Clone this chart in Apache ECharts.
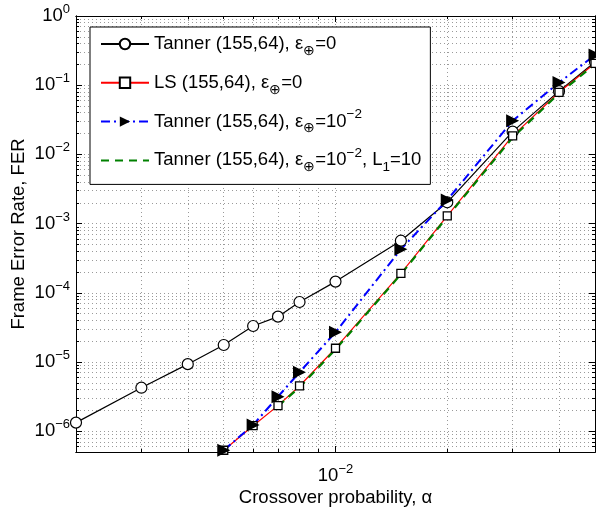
<!DOCTYPE html>
<html><head><meta charset="utf-8">
<script src="https://cdn.jsdelivr.net/npm/echarts@6/dist/echarts.min.js"></script>
<style>html,body{margin:0;padding:0;background:#fff}#c{width:596px;height:508px}</style>
</head><body><div id="c"></div><script>
// ---- data ----
const alphaTanner0 = [0.002,0.003,0.004,0.005,0.006,0.007,0.008,0.01,0.015,0.02,0.03,0.04,0.05];
const ferTanner0   = [1.33e-6,4.25e-6,9.3e-6,1.76e-5,3.31e-5,4.52e-5,7.36e-5,1.45e-4,5.66e-4,2.03e-3,2.13e-2,8.2e-2,0.216];
const alphaLS0     = [0.005,0.006,0.007,0.008,0.01,0.015,0.02,0.03,0.04,0.05];
const ferLS0       = [5.3e-7,1.2e-6,2.34e-6,4.5e-6,1.58e-5,1.91e-4,1.29e-3,1.85e-2,7.9e-2,0.207];
const alphaTannerE = [0.005,0.006,0.007,0.008,0.01,0.015,0.02,0.03,0.04,0.05];
const ferTannerE   = [5.3e-7,1.23e-6,3.15e-6,7.1e-6,2.69e-5,4.25e-4,2.19e-3,3.07e-2,0.109,0.273];
const alphaTannerL = [0.007,0.008,0.01,0.015,0.02,0.03,0.04,0.05];
const ferTannerL   = [2.3e-6,4.3e-6,1.52e-5,1.85e-4,1.25e-3,1.75e-2,7.6e-2,0.2];

const xMin = 0.002, xMax = 0.05, yMin = 5e-7, yMax = 1;
const xGridValues = [0.002,0.003,0.004,0.005,0.006,0.007,0.008,0.009,0.01,0.02,0.03,0.04,0.05];
const xMajorValues = [0.01];
const yGridValues = [];
for (let e = -7; e <= -1; e++) for (let k = 1; k <= 9; k++) { const v = k * Math.pow(10, e); if (v >= yMin*0.999) yGridValues.push(v); }
yGridValues.push(1);
const yMajorValues = [1e-6,1e-5,1e-4,1e-3,1e-2,1e-1,1];

const legendNames = {
  t0: 'Tanner (155,64), ε{sub|⊕}=0',
  ls: 'LS (155,64), ε{sub|⊕}=0',
  te: 'Tanner (155,64), ε{sub|⊕}=10{sup|−2}',
  tl: 'Tanner (155,64), ε{sub|⊕}=10{sup|−2}, L{sub|1}=10'
};

const L = Math.log10;
const FONT = 'Liberation Sans';
const pairs = (xs, ys) => xs.map((x, i) => [L(x), L(ys[i])]);
const pow10Label = v => '{b|10}{s|' + String(Math.round(v)).replace('-', '−') + '}';
const labelRich = {
  b: {fontSize: 18.5, fontFamily: FONT, color: '#000', lineHeight: 26},
  s: {fontSize: 13, fontFamily: FONT, color: '#000', lineHeight: 10, verticalAlign: 'top'}
};

function xAx(pos, vals, len, labels, split) {
  return {
    type: 'value', position: pos, min: L(xMin), max: L(xMax),
    axisLine: {show: true, onZero: false, lineStyle: {color: '#000', width: 1}},
    axisTick: {show: true, inside: true, length: len, customValues: vals.map(L), lineStyle: {color: '#000'}},
    axisLabel: labels ? {show: true, customValues: xMajorValues.map(L), formatter: pow10Label, rich: labelRich, margin: 11} : {show: false},
    splitLine: split ? {show: true, lineStyle: {color: '#9a9a9a', type: [1, 3], width: 1}} : {show: false}
  };
}
function yAx(pos, vals, len, labels, split) {
  return {
    type: 'value', position: pos, min: L(yMin), max: L(yMax),
    axisLine: {show: true, onZero: false, lineStyle: {color: '#000', width: 1}},
    axisTick: {show: true, inside: true, length: len, customValues: vals.map(L), lineStyle: {color: '#000'}},
    axisLabel: labels ? {show: true, customValues: yMajorValues.map(L), formatter: pow10Label, rich: labelRich, margin: 6} : {show: false},
    splitLine: split ? {show: true, lineStyle: {color: '#9a9a9a', type: [1, 3], width: 1}} : {show: false}
  };
}

const xAxes = [xAx('bottom', xGridValues, 3, true, true), xAx('top', xGridValues, 3, false, false),
               xAx('bottom', xMajorValues, 6, false, false), xAx('top', xMajorValues, 6, false, false)];
xAxes[0].name = 'Crossover probability, α';
xAxes[0].nameLocation = 'middle';
xAxes[0].nameGap = 36;
xAxes[0].nameMoveOverlap = false;
xAxes[0].nameTextStyle = {fontSize: 18.5, fontFamily: FONT, color: '#000'};
const yAxes = [yAx('left', yGridValues, 3, true, true), yAx('right', yGridValues, 3, false, false),
               yAx('left', yMajorValues, 6, false, false), yAx('right', yMajorValues, 6, false, false)];
yAxes[0].name = 'Frame Error Rate, FER';
yAxes[0].nameLocation = 'middle';
yAxes[0].nameGap = 48;
yAxes[0].nameMoveOverlap = false;
yAxes[0].nameTextStyle = {fontSize: 18.5, fontFamily: FONT, color: '#000'};

const chart = echarts.init(document.getElementById('c'), null, {renderer: 'canvas'});
chart.setOption({
  animation: false,
  backgroundColor: '#fff',
  grid: {left: 76, top: 16, right: 1, bottom: 56, containLabel: false, outerBoundsMode: 'none'},
  xAxis: xAxes,
  yAxis: yAxes,
  legend: {
    orient: 'vertical', left: 90, top: 27,
    backgroundColor: '#fff', borderColor: '#000', borderWidth: 1, borderRadius: 0,
    padding: [3, 9, 10, 10], itemGap: 10.8, itemWidth: 48, itemHeight: 13,
    data: ['t0', 'ls', 'te', {name: 'tl', itemStyle: {opacity: 0}}],
    formatter: n => legendNames[n],
    textStyle: {
      fontSize: 18.5, fontFamily: FONT, color: '#000', lineHeight: 28,
      rich: {
        sub: {fontSize: 13.5, fontFamily: FONT, color: '#000', lineHeight: 8, verticalAlign: 'bottom'},
        sup: {fontSize: 13.5, fontFamily: FONT, color: '#000', lineHeight: 8, verticalAlign: 'top'}
      }
    }
  },
  series: [
    {name: 't0', type: 'line', data: pairs(alphaTanner0, ferTanner0), symbol: 'circle', symbolSize: 11,
     itemStyle: {color: '#fff', borderColor: '#000', borderWidth: 1.2}, lineStyle: {color: '#000', width: 1.2}},
    {name: 'ls', type: 'line', data: pairs(alphaLS0, ferLS0), symbol: 'rect', symbolSize: 8,
     itemStyle: {color: '#fff', borderColor: '#000', borderWidth: 1.3}, lineStyle: {color: '#ff0000', width: 1.2}},
    {name: 'te', type: 'line', data: pairs(alphaTannerE, ferTannerE), symbol: 'triangle', symbolSize: 13, symbolRotate: -90,
     itemStyle: {color: '#000', borderColor: '#000', borderWidth: 0}, lineStyle: {color: '#0000ff', width: 2, type: [9, 4, 2, 4]}},
    {name: 'tl', type: 'line', data: pairs(alphaTannerL, ferTannerL), symbol: 'none', showSymbol: false,
     itemStyle: {color: '#008000'}, lineStyle: {color: '#008000', width: 2.2, type: [8, 6]}}
  ]
});
</script></body></html>
